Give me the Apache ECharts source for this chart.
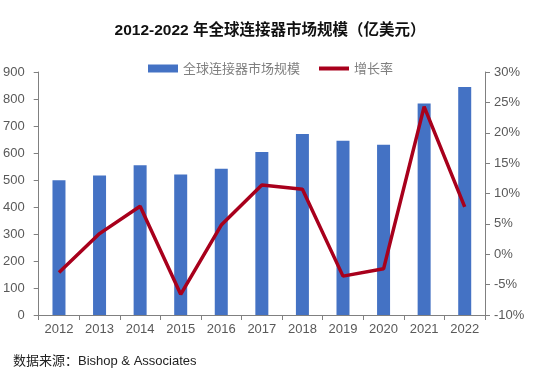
<!DOCTYPE html>
<html>
<head>
<meta charset="utf-8">
<script src="https://cdn.jsdelivr.net/npm/echarts@6/dist/echarts.min.js"></script>
<style>
    html, body { margin: 0; padding: 0; background: #fff; }
    #chart { width: 540px; height: 377px; }
</style>
</head>
<body>
<div id="chart"></div>
<script>
    var years = ['2012', '2013', '2014', '2015', '2016', '2017', '2018', '2019', '2020', '2021', '2022'];
    var marketSize = [499, 517, 555, 520, 542, 604, 670, 645, 631, 783, 844];
    var growthRate = [-3.0, 3.4, 7.9, -6.6, 4.8, 11.4, 10.7, -3.6, -2.4, 24.3, 7.8];
    var sizeName = '全球连接器市场规模';
    var rateName = '增长率';

    var chart = echarts.init(document.getElementById('chart'));
    var axisText = { color: '#595959', fontSize: 13, fontFamily: 'Liberation Sans, Arial, sans-serif' };
    chart.setOption({
        animation: false,
        title: {
            text: '2012-2022 年全球连接器市场规模（亿美元）',
            left: 'center',
            top: 18,
            textStyle: { fontSize: 15.5, fontWeight: 'bold', color: '#111', fontFamily: 'Liberation Sans, Noto Sans CJK SC, sans-serif' }
        },
        legend: {
            top: 57,
            left: 143,
            itemGap: 19,
            itemWidth: 30,
            itemHeight: 8,
            textStyle: { color: '#7f7f7f', fontSize: 13, fontFamily: 'Noto Sans CJK SC, sans-serif' },
            data: [
                { name: sizeName, icon: 'rect' },
                { name: rateName, icon: 'path://M0,0 L30,0 L30,4 L0,4 Z' }
            ]
        },
        grid: { left: 37, right: 55, top: 72, bottom: 62 },
        xAxis: {
            type: 'category',
            data: years,
            axisLine: { lineStyle: { color: '#808080' } },
            axisTick: { show: true, alignWithLabel: false, lineStyle: { color: '#808080' } },
            axisLabel: Object.assign({ margin: 8 }, axisText)
        },
        yAxis: [
            {
                type: 'value',
                min: 0, max: 900, interval: 100,
                axisLine: { show: true, lineStyle: { color: '#808080' } },
                axisTick: { show: true, lineStyle: { color: '#808080' } },
                splitLine: { show: false },
                axisLabel: Object.assign({ margin: 14 }, axisText)
            },
            {
                type: 'value',
                min: -10, max: 30, interval: 5,
                axisLine: { show: true, lineStyle: { color: '#808080' } },
                axisTick: { show: true, lineStyle: { color: '#808080' } },
                splitLine: { show: false },
                axisLabel: Object.assign({ margin: 9, formatter: '{value}%' }, axisText)
            }
        ],
        series: [
            {
                name: sizeName,
                type: 'bar',
                data: marketSize,
                barWidth: 13,
                itemStyle: { color: '#4472C4' }
            },
            {
                name: rateName,
                type: 'line',
                yAxisIndex: 1,
                data: growthRate,
                symbol: 'none',
                lineStyle: { color: '#A8001C', width: 3.5 },
                itemStyle: { color: '#A8001C' }
            }
        ],
        graphic: [
            {
                type: 'text',
                left: 13,
                top: 355,
                style: {
                    text: '数据来源：Bishop & Associates',
                    fill: '#222',
                    font: '13px "Liberation Sans", "Noto Sans CJK SC", sans-serif'
                }
            }
        ]
    });
</script>
</body>
</html>
